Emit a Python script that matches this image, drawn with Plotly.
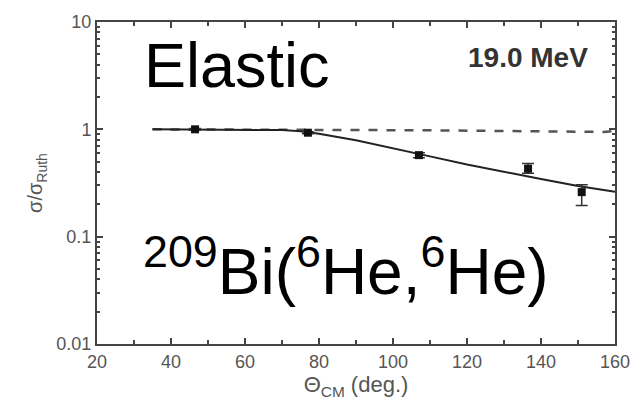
import plotly.graph_objects as go

# Data points (theta_cm in deg, sigma/sigma_Ruth)
exp_theta = [46.5, 77.0, 107.0, 136.5, 151.0]
exp_ratio = [1.0, 0.93, 0.575, 0.43, 0.26]
exp_err_plus = [0.02, 0.02, 0.03, 0.05, 0.045]
exp_err_minus = [0.02, 0.02, 0.03, 0.04, 0.065]

# Solid curve (calculation)
fit_theta = [35, 50, 60, 70, 75, 80, 90, 100, 110, 120, 130, 140, 150, 160]
fit_ratio = [1.0, 1.0, 1.0, 0.985, 0.96, 0.91, 0.79, 0.67, 0.56, 0.47, 0.40, 0.345, 0.297, 0.262]

# Dashed curve
dash_theta = [35, 60, 75, 90, 110, 130, 150, 157, 160]
dash_ratio = [1.0, 1.0, 0.99, 0.985, 0.98, 0.965, 0.95, 0.945, 0.97]

y_tickvals = [0.01, 0.1, 1, 10]
y_ticktext = ["0.01", "0.1", "1", "10"]
x_tickvals = [20, 40, 60, 80, 100, 120, 140, 160]

fig = go.Figure()
fig.add_trace(go.Scatter(x=dash_theta, y=dash_ratio, mode="lines",
                         line=dict(color="#555555", width=2.5, dash="dash"),
                         showlegend=False))
fig.add_trace(go.Scatter(x=fit_theta, y=fit_ratio, mode="lines",
                         line=dict(color="#222222", width=2), showlegend=False))
fig.add_trace(go.Scatter(x=exp_theta, y=exp_ratio, mode="markers",
                         marker=dict(symbol="square", size=8, color="#111111"),
                         error_y=dict(type="data", array=exp_err_plus,
                                      arrayminus=exp_err_minus, color="#333333",
                                      thickness=1.5, width=6),
                         showlegend=False))

fig.add_annotation(x=0.087, y=0.865, xref="paper", yref="paper", text="Elastic",
                   showarrow=False, xanchor="left", yanchor="middle",
                   font=dict(family="Liberation Sans", size=63, color="#000000"))
fig.add_annotation(x=0.084, y=0.24, xref="paper", yref="paper",
                   text="<sup>209</sup>Bi(<sup>6</sup>He,<sup>6</sup>He)",
                   showarrow=False, xanchor="left", yanchor="middle",
                   font=dict(family="Liberation Sans", size=64, color="#000000"))
fig.add_annotation(x=0.952, y=0.889, xref="paper", yref="paper", text="<b>19.0 MeV</b>",
                   showarrow=False, xanchor="right", yanchor="middle",
                   font=dict(family="Liberation Sans", size=28, color="#333333"))

axis_font = dict(family="Liberation Sans", size=18, color="#555555")
xtitle_font = dict(family="Liberation Sans", size=22, color="#555555")
ytitle_font = dict(family="Liberation Sans", size=20, color="#555555")

fig.update_xaxes(range=[20, 160], tickvals=x_tickvals, ticks="inside", ticklen=6,
                 tickwidth=1.5, tickcolor="#444444",
                 showline=True, linecolor="#444444", linewidth=2, mirror="ticks",
                 showgrid=False, zeroline=False, tickfont=axis_font,
                 minor=dict(dtick=10, ticks="inside", ticklen=4, tickcolor="#444444",
                            showgrid=False),
                 title=dict(text="Θ<sub>CM</sub> (deg.)", font=xtitle_font, standoff=6))
fig.update_yaxes(type="log", range=[-2, 1], tickvals=y_tickvals, ticktext=y_ticktext,
                 ticks="inside", ticklen=6, tickwidth=1.5, tickcolor="#444444",
                 showline=True, linecolor="#444444", linewidth=2, mirror="ticks",
                 showgrid=False, zeroline=False, tickfont=axis_font,
                 minor=dict(dtick="D1", ticks="inside", ticklen=3, tickcolor="#444444",
                            showgrid=False),
                 title=dict(text="σ/σ<sub>Ruth</sub>", font=ytitle_font, standoff=8))

fig.update_layout(width=642, height=405, margin=dict(l=97, r=20, t=15, b=58),
                  plot_bgcolor="white", paper_bgcolor="white")

fig.write_html("out.html")
